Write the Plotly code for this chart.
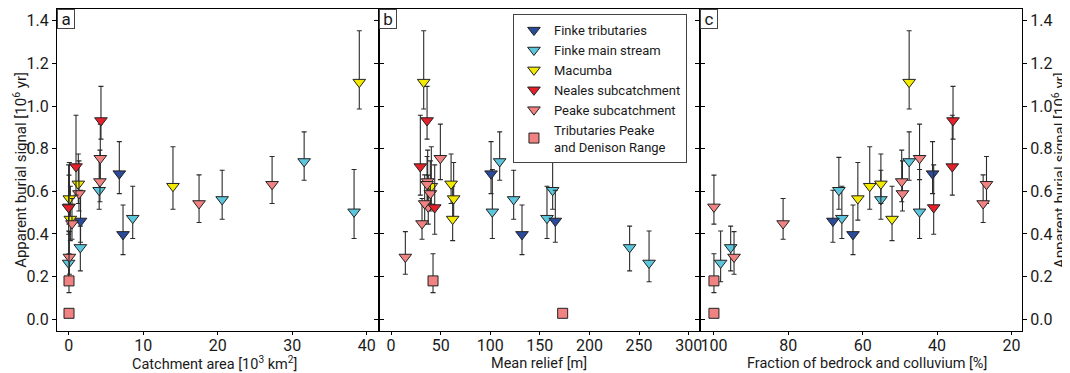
import plotly.graph_objects as go
from plotly.subplots import make_subplots

# ---- data -------------------------------------------------------------
group_names = ["Finke tributaries", "Finke main stream", "Macumba",
               "Neales subcatchment", "Peake subcatchment",
               "Tributaries Peake<br>and Denison Range"]

# Finke tributaries
ft_burial = [0.683, 0.398, 0.461]
ft_plus = [0.150, 0.138, 0.144]
ft_minus = [0.094, 0.095, 0.100]
ft_area = [6.8, 7.3, 1.6]
ft_relief = [100.8, 132.0, 165.6]
ft_frac = [41.2, 62.6, 68.0]

# Finke main stream
fm_burial = [0.264, 0.337, 0.605, 0.474, 0.562, 0.740, 0.504]
fm_plus = [0.150, 0.100, 0.154, 0.150, 0.137, 0.139, 0.198]
fm_minus = [0.088, 0.110, 0.089, 0.095, 0.093, 0.088, 0.125]
fm_area = [0.0, 1.57, 4.1, 8.6, 20.6, 31.6, 38.3]
fm_relief = [260.1, 240.5, 162.9, 157.2, 123.6, 109.5, 102.1]
fm_frac = [98.2, 95.5, 66.4, 65.6, 55.1, 47.5, 44.7]

# Macumba
ma_burial = [1.112, 0.624, 0.635, 0.566, 0.470]
ma_plus = [0.241, 0.185, 0.140, 0.169, 0.154]
ma_minus = [0.126, 0.108, 0.092, 0.101, 0.101]
ma_area = [39.0, 14.0, 1.3, 0.1, 0.23]
ma_relief = [32.9, 40.6, 60.5, 63.1, 62.1]
ma_frac = [47.5, 58.1, 55.1, 61.3, 52.1]

# Neales subcatchment
ne_burial = [0.932, 0.716, 0.524]
ne_plus = [0.160, 0.241, 0.200]
ne_minus = [0.087, 0.134, 0.125]
ne_area = [4.34, 0.99, 0.0]
ne_relief = [36.3, 29.5, 44.0]
ne_frac = [35.7, 35.9, 40.9]

# Peake subcatchment
pe_burial = [0.527, 0.292, 0.449, 0.646, 0.590, 0.755, 0.543, 0.633]
pe_plus = [0.149, 0.119, 0.117, 0.147, 0.153, 0.160, 0.134, 0.130]
pe_minus = [0.081, 0.081, 0.074, 0.095, 0.082, 0.100, 0.089, 0.090]
pe_area = [0.05, 0.1, 0.45, 4.2, 1.39, 4.25, 17.5, 27.3]
pe_relief = [37.5, 14.4, 31.2, 36.9, 39.6, 49.7, 33.9, 36.3]
pe_frac = [100.0, 94.6, 81.4, 49.5, 49.3, 44.7, 27.6, 26.7]

# Tributaries Peake and Denison Range
tp_burial = [0.180, 0.028]
tp_plus = [0.127, 0.0]
tp_minus = [0.055, 0.0]
tp_area = [0.05, 0.05]
tp_relief = [42.3, 173.0]
tp_frac = [100.0, 100.0]

x_titles = ["Catchment area [10<sup>3</sup> km<sup>2</sup>]", "Mean relief [m]",
            "Fraction of bedrock and colluvium [%]"]
y_title = "Apparent burial signal [10<sup>6</sup> yr]"
y_ticks = [0.0, 0.2, 0.4, 0.6, 0.8, 1.0, 1.2, 1.4]
panel_letters = ["a", "b", "c"]

# ---- styling ----------------------------------------------------------
FONT = "Roboto"
TXT = "#1a1a1a"
colors = ["#2A4A9A", "#5CC6DC", "#F4EA00", "#E5202A", "#F08282", "#F08282"]
symbols = ["triangle-down"] * 5 + ["square"]

series = [
    (ft_burial, ft_plus, ft_minus, ft_area, ft_relief, ft_frac),
    (fm_burial, fm_plus, fm_minus, fm_area, fm_relief, fm_frac),
    (ma_burial, ma_plus, ma_minus, ma_area, ma_relief, ma_frac),
    (ne_burial, ne_plus, ne_minus, ne_area, ne_relief, ne_frac),
    (pe_burial, pe_plus, pe_minus, pe_area, pe_relief, pe_frac),
    (tp_burial, tp_plus, tp_minus, tp_area, tp_relief, tp_frac),
]
draw_order = [1, 0, 2, 4, 3, 5]

fig = make_subplots(rows=1, cols=3, horizontal_spacing=0.0)

for gi in draw_order:
    burial, plus, minus, area, relief, frac = series[gi]
    for col, xs in enumerate([area, relief, frac], start=1):
        fig.add_trace(go.Scatter(
            x=xs, y=burial, mode="markers",
            name=group_names[gi], legendgroup=group_names[gi],
            legendrank=gi + 1, showlegend=(col == 1),
            marker=dict(symbol=symbols[gi], size=11 if gi < 5 else 10,
                        color=colors[gi], line=dict(color="#222222", width=1)),
            error_y=dict(type="data", symmetric=False, array=plus,
                         arrayminus=minus, color="#2a2a2a", thickness=1.1, width=2.5),
        ), row=1, col=col)

x_ranges = [[-1.56, 41.6], [-12.5, 311.8], [103.66, 17.15]]
x_tickvals = [[0, 10, 20, 30, 40], [0, 50, 100, 150, 200, 250, 300],
              [100, 80, 60, 40, 20]]
for i in range(3):
    fig.update_xaxes(
        range=x_ranges[i], tickvals=x_tickvals[i], showgrid=False, zeroline=False,
        showline=True, linecolor="black", linewidth=1, mirror=True,
        ticks="outside", ticklen=3, tickcolor="black", automargin=False,
        ticklabelstandoff=-3,
        tickfont=dict(family=FONT, size=16, color=TXT),
        row=1, col=i + 1)
    fig.update_yaxes(
        range=[-0.055, 1.455], tickvals=y_ticks, ticktext=[f"{v:.1f}" for v in y_ticks],
        showgrid=False, zeroline=False, showline=True, linecolor="black",
        linewidth=1, mirror="ticks", ticks="outside", ticklen=4, tickcolor="black",
        tickfont=dict(family=FONT, size=16, color=TXT), automargin=False,
        showticklabels=(i != 1),
        row=1, col=i + 1)
fig.update_yaxes(side="right", row=1, col=3)

# axis titles as annotations (paper coordinates)
x_title_pos = [0.163, 0.4995, 0.839]
for xt, xp in zip(x_titles, x_title_pos):
    fig.add_annotation(text=xt, xref="paper", yref="paper", x=xp, y=-0.100,
                       xanchor="center", yanchor="middle", showarrow=False,
                       font=dict(family=FONT, size=14.5, color=TXT))
for xp in [-0.0385, 1.0385]:
    fig.add_annotation(text=y_title, xref="paper", yref="paper", x=xp, y=0.5,
                       xanchor="center", yanchor="middle", showarrow=False,
                       textangle=-90, font=dict(family=FONT, size=15, color=TXT))

for i, letter in enumerate(panel_letters):
    xref = "x domain" if i == 0 else f"x{i + 1} domain"
    yref = "y domain" if i == 0 else f"y{i + 1} domain"
    fig.add_annotation(text=letter, xref=xref, yref=yref, x=0, y=1,
                       xanchor="left", yanchor="top", showarrow=False,
                       font=dict(family=FONT, size=17, color=TXT),
                       bordercolor="#444", borderwidth=1, borderpad=0,
                       bgcolor="white", width=16, height=18)

# page body has an 8px margin, so the figure is sized to fit the window
fig.update_layout(
    width=1062, height=365,
    margin=dict(l=49, r=48, t=1, b=42, autoexpand=False),
    plot_bgcolor="white", paper_bgcolor="white",
    font=dict(family=FONT, color=TXT),
    legend=dict(x=0.4725, y=0.984, xanchor="left", yanchor="top",
                bgcolor="white", bordercolor="#444", borderwidth=1,
                font=dict(family=FONT, size=13, color=TXT),
                tracegroupgap=0, itemwidth=30),
)

fig.write_html("out.html")
